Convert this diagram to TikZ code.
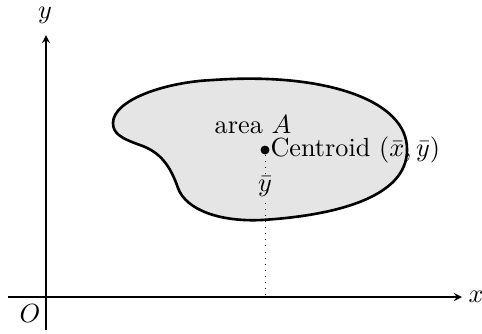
\documentclass[tikz,border=0pt]{standalone}
\usepackage{amsmath,amssymb}
\usepackage{tikz}
\usetikzlibrary{arrows,arrows.meta,positioning,calc}

% outline of the area
\newcommand{\areaoutline}{(113,123)
    .. controls (113,100) and (165,82) .. (213,80)
    .. controls (324,72) and (408,100) .. (407,150)
    .. controls (407,195) and (342,215) .. (262,220)
    .. controls (220,222) and (186,210) .. (178,188)
    .. controls (170,165) and (160,152) .. (140,145)
    .. controls (120,138) and (113,133) .. (113,123) -- cycle}

\begin{document}
\begin{tikzpicture}[
    x=0.0134cm, y=-0.0134cm,
    axis/.style={->, >=stealth},
    lbl/.style={inner sep=1pt}
]
\useasboundingbox (0,0) rectangle (482,333);

% axes
\coordinate (O) at (46,297);
\coordinate (xstart) at (8,297);
\coordinate (xend) at (462,297);
\coordinate (ystart) at (46,330);
\coordinate (yend) at (46,35);
\draw[axis] (xstart) -- (xend);
\draw[axis] (ystart) -- (yend);
\node[lbl] (xlabel) at (476,297) {$x$};
\node[lbl] (ylabel) at (45,15) {$y$};
\node[lbl] (origin) at (30,314) {$O$};

% the area
\fill[gray!20] \areaoutline;

\node[lbl] (area) at (253,125) {area $A$};

% centroid
\node[circle, fill, inner sep=1.2pt] (cg) at (265,150) {};
\node[lbl, right=-1pt of cg] (cglabel) {Centroid $(\bar{x}, \bar{y})$};

% border runs over the label
\draw[line width=1pt, line join=round] \areaoutline;

\coordinate (foot) at (265,297);
\draw[dotted, line width=0.3pt] (cg) -- (foot);
\node[lbl, fill=gray!20] (ybar) at (265,187) {$\bar{y}$};

\end{tikzpicture}
\end{document}
